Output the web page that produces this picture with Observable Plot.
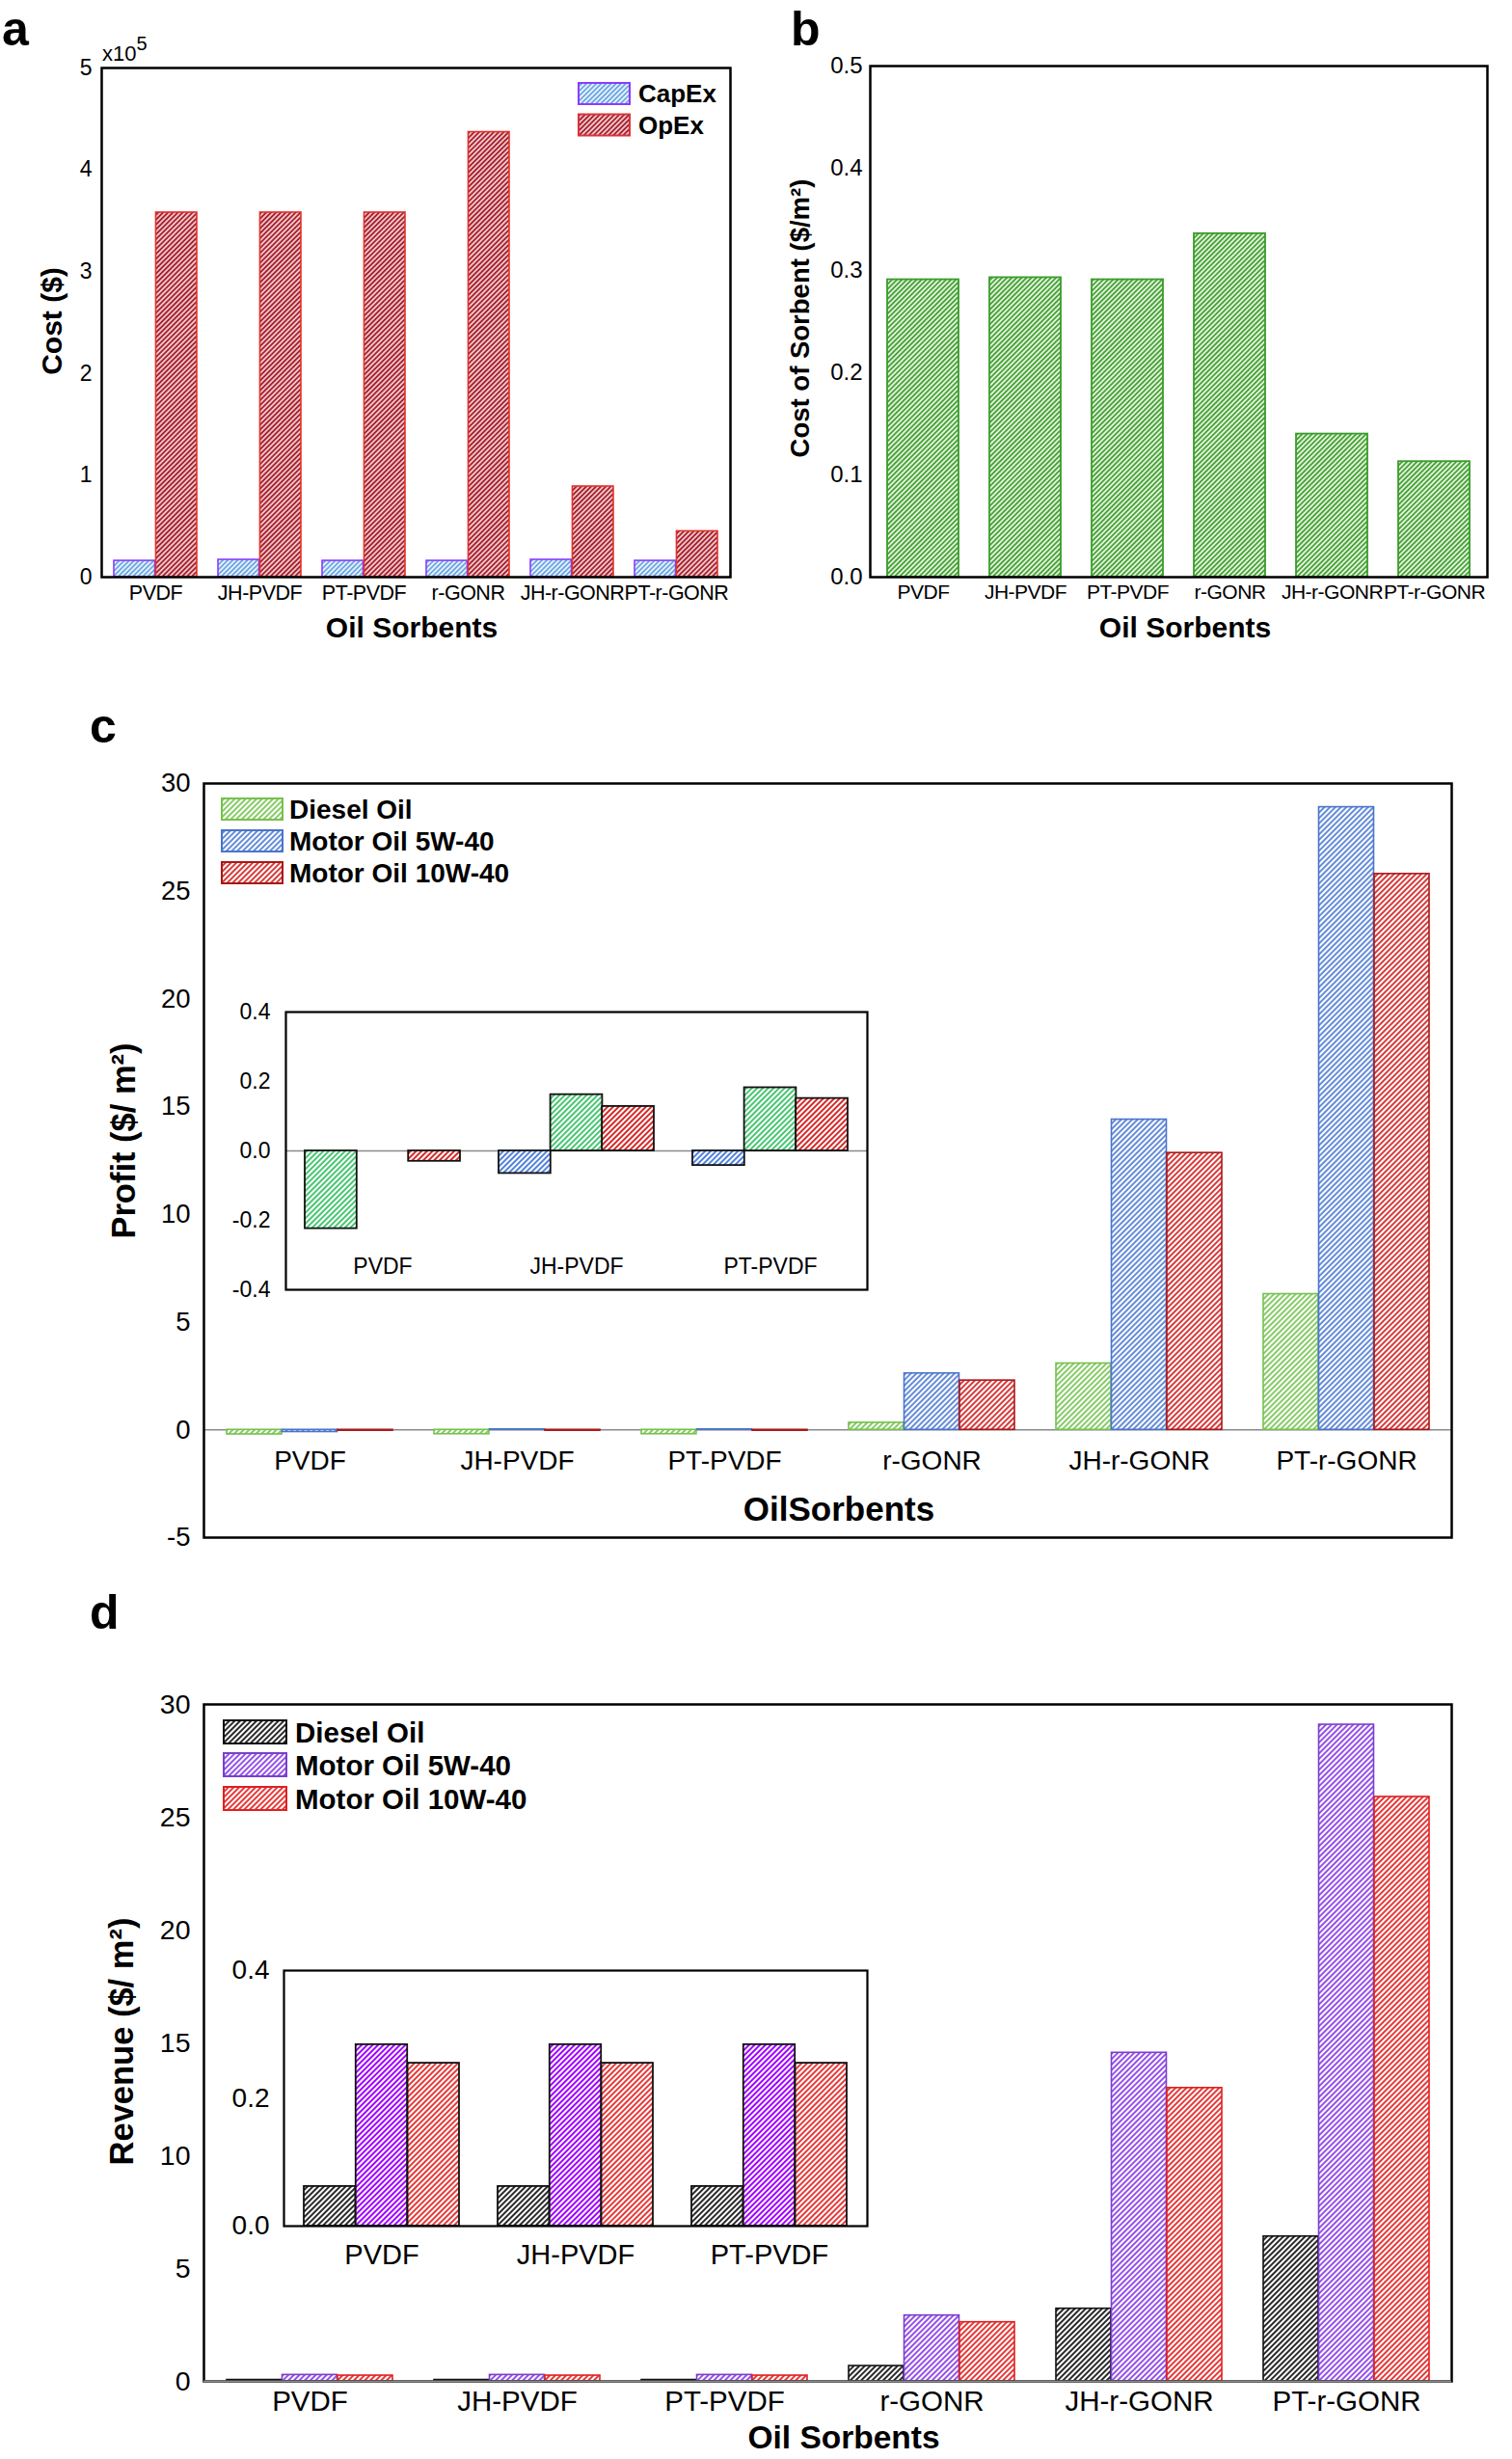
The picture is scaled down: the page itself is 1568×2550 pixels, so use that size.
<!DOCTYPE html>
<html><head><meta charset="utf-8">
<script src="https://cdn.jsdelivr.net/npm/d3@7"></script>
<script src="https://cdn.jsdelivr.net/npm/@observablehq/plot@0.6"></script>
<style>
html,body{margin:0;padding:0;background:#fff}
#page{position:relative;width:1568px;height:2550px;overflow:hidden;background:#fff}
.tight g[aria-label="x-axis tick label"] text{letter-spacing:-0.5px}
</style></head><body>
<svg id="patterns" width="0" height="0" style="position:absolute;left:0;top:0"><defs></defs></svg>
<div id="page"></div>
<script>
// ---------------- DATA ----------------
const sorbents = ["PVDF","JH-PVDF","PT-PVDF","r-GONR","JH-r-GONR","PT-r-GONR"];
const costTypes = ["CapEx","OpEx"];
const capexCost = [16000,17000,16000,16000,17000,16000];
const opexCost = [358000,358000,358000,437000,89000,45000];
const costTicks = [0,1,2,3,4,5]; // units of 10^5 $
const sorbentCost = [0.291,0.293,0.291,0.336,0.140,0.113];
const sorbentCostTicks = [0,0.1,0.2,0.3,0.4,0.5];

const oils = ["Diesel Oil","Motor Oil 5W-40","Motor Oil 10W-40"];
const profitDiesel = [-0.21,-0.20,-0.20,0.33,3.08,6.3];
const profit5W = [-0.10,0.02,0.02,2.62,14.4,28.9];
const profit10W = [-0.04,-0.04,-0.04,2.29,12.85,25.8];
const profitTicks = [-5,0,5,10,15,20,25,30];

const insetSorbents = ["PVDF","JH-PVDF","PT-PVDF"];
const insetProfitDiesel = [-0.224,0.162,0.182];
const insetProfit5W = [0,-0.065,-0.042];
const insetProfit10W = [-0.03,0.128,0.151];
// order in which the oils appear inside each inset group (as drawn)
const insetProfitSlots = [
  ["Diesel Oil","Motor Oil 5W-40","Motor Oil 10W-40"],
  ["Motor Oil 5W-40","Diesel Oil","Motor Oil 10W-40"],
  ["Motor Oil 5W-40","Diesel Oil","Motor Oil 10W-40"]
];
const insetProfitTicks = [-0.4,-0.2,0,0.2,0.4];

const revenueDiesel = [0.062,0.062,0.062,0.68,3.22,6.42];
const revenue5W = [0.284,0.284,0.284,2.92,14.56,29.1];
const revenue10W = [0.255,0.255,0.255,2.62,13.0,25.9];
const revenueTicks = [0,5,10,15,20,25,30];
const insetRevenueTicks = [0,0.2,0.4];

// ---------------- PATTERNS ----------------
const font = '"Liberation Sans", Arial, Helvetica, sans-serif';
const defs = d3.select("#patterns defs");
function hatch(id, line, bg = "#fff", size = 4, lw = 1.8) {
  const p = defs.append("pattern").attr("id", id).attr("patternUnits", "userSpaceOnUse")
    .attr("width", size).attr("height", size).attr("patternTransform", "rotate(45)");
  p.append("rect").attr("width", size).attr("height", size).attr("fill", bg);
  p.append("line").attr("x1", size / 2).attr("x2", size / 2).attr("y1", -1).attr("y2", size + 1)
    .attr("stroke", line).attr("stroke-width", lw);
}
hatch("hCapex", "#5c9ee0", "#e9f2fb", 3.6, 1.6);
hatch("hOpex", "#a8202e", "#f3d2d4", 3.6, 1.9);
hatch("hB", "#3e9e2e", "#e3f3dc", 3.6, 1.7);
hatch("hcG", "#72c24e", "#fff", 4, 1.7);
hatch("hcB", "#4b78d2", "#fff", 4, 1.7);
hatch("hcR", "#d22626", "#fff", 4, 1.8);
hatch("hiG", "#35c063", "#fff", 4, 1.8);
hatch("hiB", "#3e73d8", "#fff", 4, 1.8);
hatch("hiR", "#d21e1e", "#fff", 4, 1.9);
hatch("hdK", "#111", "#fff", 4, 1.8);
hatch("hdP", "#8a3ee6", "#fff", 4, 1.8);
hatch("hdR", "#e22424", "#fff", 4, 1.8);
hatch("hiP", "#a000ff", "#fff", 4, 2.0);

const page = document.getElementById("page");
function place(node, left, top) {
  node.style.position = "absolute";
  node.style.left = left + "px";
  node.style.top = top + "px";
  page.appendChild(node);
}
const baseStyle = (bg) => ({fontFamily: font, background: bg, color: "#000", overflow: "visible"});
const fmt1 = d => d.toFixed(1);

// band geometry: paddingInner 0.2, paddingOuter 0.1 -> step = inner width / n, group = 0.8 step
const PAD_IN = 0.2, PAD_OUT = 0.1;
function slotInsets(innerWidth, nGroups, nSlots, slot) {
  const w = innerWidth / nGroups * (1 - PAD_IN) / nSlots;
  return {insetLeft: slot * w, insetRight: (nSlots - 1 - slot) * w};
}

// ---------------- PANEL A ----------------
const A = {width: 790, height: 680, ml: 105, mr: 33, mt: 70, mb: 82};
const costRows = sorbents.flatMap((s, i) => [
  {sorbent: s, type: "CapEx", cost: capexCost[i]},
  {sorbent: s, type: "OpEx", cost: opexCost[i]}
]);
const aStyles = {CapEx: {fill: "url(#hCapex)", stroke: "#8a3cff"}, OpEx: {fill: "url(#hOpex)", stroke: "#e2312b"}};
const chartA = Plot.plot({
  width: A.width, height: A.height, marginLeft: A.ml, marginRight: A.mr, marginTop: A.mt, marginBottom: A.mb,
  className: "tight",
  style: baseStyle("transparent"),
  x: {domain: sorbents, paddingInner: PAD_IN, paddingOuter: PAD_OUT},
  y: {domain: [0, 5e5]},
  marks: [
    ...costTypes.map((t, j) => Plot.barY(costRows, {
      filter: d => d.type === t, x: "sorbent", y: "cost",
      ...slotInsets(A.width - A.ml - A.mr, sorbents.length, costTypes.length, j),
      fill: aStyles[t].fill, stroke: aStyles[t].stroke, strokeWidth: 1.6
    })),
    Plot.axisX({tickSize: 0, tickPadding: 8, fontSize: 21.5, label: null}),
    Plot.axisY({ticks: costTicks.map(t => t * 1e5), tickFormat: d => String(d / 1e5), tickSize: 0, tickPadding: 10, fontSize: 23, label: null}),
    Plot.frame({stroke: "#000", strokeWidth: 2.5})
  ]
});
place(chartA, 0, 0);

// ---------------- PANEL B ----------------
const sorbentRows = sorbents.map((s, i) => ({sorbent: s, cost: sorbentCost[i]}));
const chartB = Plot.plot({
  width: 778, height: 680, marginLeft: 112, marginRight: 26, marginTop: 68, marginBottom: 82,
  className: "tight",
  style: baseStyle("transparent"),
  x: {domain: sorbents, paddingInner: 0.3, paddingOuter: 0.15},
  y: {domain: [0, 0.5]},
  marks: [
    Plot.barY(sorbentRows, {x: "sorbent", y: "cost", fill: "url(#hB)", stroke: "#3a9c2c", strokeWidth: 1.8}),
    Plot.axisX({tickSize: 0, tickPadding: 8, fontSize: 21, label: null}),
    Plot.axisY({ticks: sorbentCostTicks, tickFormat: fmt1, tickSize: 0, tickPadding: 8, fontSize: 24, label: null}),
    Plot.frame({stroke: "#000", strokeWidth: 2.5})
  ]
});
place(chartB, 790, 0);

// ---------------- PANEL C ----------------
const C = {width: 1568, height: 900, ml: 211, mr: 63, mt: 92, mb: 26};
const profitSeries = [profitDiesel, profit5W, profit10W];
const profitRows = sorbents.flatMap((s, i) => oils.map((o, j) => ({sorbent: s, oil: o, value: profitSeries[j][i]})));
const cStyles = {
  "Diesel Oil": {fill: "url(#hcG)", stroke: "#76c14c"},
  "Motor Oil 5W-40": {fill: "url(#hcB)", stroke: "#4a74cc"},
  "Motor Oil 10W-40": {fill: "url(#hcR)", stroke: "#a81818"}
};
const chartC = Plot.plot({
  width: C.width, height: C.height, marginLeft: C.ml, marginRight: C.mr, marginTop: C.mt, marginBottom: C.mb,
  style: baseStyle("transparent"),
  x: {domain: sorbents, paddingInner: PAD_IN, paddingOuter: PAD_OUT, axis: null},
  y: {domain: [-5, 30]},
  marks: [
    Plot.ruleY([0], {stroke: "#8a8a8a", strokeWidth: 1.5}),
    ...oils.map((o, j) => Plot.barY(profitRows, {
      filter: d => d.oil === o, x: "sorbent", y: "value",
      ...slotInsets(C.width - C.ml - C.mr, sorbents.length, oils.length, j),
      fill: cStyles[o].fill, stroke: cStyles[o].stroke, strokeWidth: 1.6
    })),
    Plot.text(sorbents, {x: d => d, y: () => 0, text: d => d, dy: 32, fontSize: 28}),
    Plot.axisY({ticks: profitTicks, tickFormat: d => String(d), tickSize: 0, tickPadding: 14, fontSize: 27.5, label: null}),
    Plot.frame({stroke: "#000", strokeWidth: 2.5})
  ]
});
place(chartC, 0, 720);

// inset C
const IC = {width: 670, height: 330, ml: 60, mr: 7, mt: 19, mb: 23};
const insetProfitSeries = {"Diesel Oil": insetProfitDiesel, "Motor Oil 5W-40": insetProfit5W, "Motor Oil 10W-40": insetProfit10W};
const insetProfitRows = insetSorbents.flatMap((s, i) => oils.map(o => ({
  sorbent: s, oil: o, slot: insetProfitSlots[i].indexOf(o), value: insetProfitSeries[o][i]
})));
const iStyles = {"Diesel Oil": "url(#hiG)", "Motor Oil 5W-40": "url(#hiB)", "Motor Oil 10W-40": "url(#hiR)"};
const insetC = Plot.plot({
  width: IC.width, height: IC.height, marginLeft: IC.ml, marginRight: IC.mr, marginTop: IC.mt, marginBottom: IC.mb,
  style: baseStyle("white"),
  x: {domain: insetSorbents, paddingInner: PAD_IN, paddingOuter: PAD_OUT, axis: null},
  y: {domain: [-0.4, 0.4]},
  marks: [
    Plot.ruleY([0], {stroke: "#8a8a8a", strokeWidth: 1.5}),
    ...oils.flatMap(o => [0, 1, 2].map(k => Plot.barY(insetProfitRows, {
      filter: d => d.oil === o && d.slot === k, x: "sorbent", y: "value",
      ...slotInsets(IC.width - IC.ml - IC.mr, insetSorbents.length, 3, k),
      fill: iStyles[o], stroke: "#111", strokeWidth: 1.8
    }))),
    Plot.text(insetSorbents, {x: d => d, frameAnchor: "bottom", text: d => d, dy: -17, fontSize: 23}),
    Plot.axisY({ticks: insetProfitTicks, tickFormat: fmt1, tickSize: 0, tickPadding: 16, fontSize: 23, label: null}),
    Plot.frame({stroke: "#000", strokeWidth: 2.2})
  ]
});
place(insetC, 236, 1030);

// ---------------- PANEL D ----------------
const D = {width: 1568, height: 860, ml: 211, mr: 63, mt: 77, mb: 81};
const revenueSeries = [revenueDiesel, revenue5W, revenue10W];
const revenueRows = sorbents.flatMap((s, i) => oils.map((o, j) => ({sorbent: s, oil: o, value: revenueSeries[j][i]})));
const dStyles = {
  "Diesel Oil": {fill: "url(#hdK)", stroke: "#111"},
  "Motor Oil 5W-40": {fill: "url(#hdP)", stroke: "#7b3fc9"},
  "Motor Oil 10W-40": {fill: "url(#hdR)", stroke: "#e02020"}
};
const chartD = Plot.plot({
  width: D.width, height: D.height, marginLeft: D.ml, marginRight: D.mr, marginTop: D.mt, marginBottom: D.mb,
  style: baseStyle("transparent"),
  x: {domain: sorbents, paddingInner: PAD_IN, paddingOuter: PAD_OUT},
  y: {domain: [0, 30]},
  marks: [
    ...oils.map((o, j) => Plot.barY(revenueRows, {
      filter: d => d.oil === o, x: "sorbent", y: "value",
      ...slotInsets(D.width - D.ml - D.mr, sorbents.length, oils.length, j),
      fill: dStyles[o].fill, stroke: dStyles[o].stroke, strokeWidth: 1.6
    })),
    Plot.axisX({tickSize: 0, tickPadding: 10, fontSize: 29.5, label: null}),
    Plot.axisY({ticks: revenueTicks, tickFormat: d => String(d), tickSize: 0, tickPadding: 14, fontSize: 28.5, label: null}),
    Plot.frame({stroke: "#000", strokeWidth: 2.5}),
    Plot.ruleY([0], {stroke: "#8a8a8a", strokeWidth: 2})
  ]
});
place(chartD, 0, 1690);

// inset D
const ID = {width: 670, height: 345, ml: 58, mr: 7, mt: 18, mb: 62};
const insetRevenueRows = insetSorbents.flatMap((s, i) => oils.map((o, j) => ({sorbent: s, oil: o, value: revenueSeries[j][i]})));
const idStyles = {"Diesel Oil": "url(#hdK)", "Motor Oil 5W-40": "url(#hiP)", "Motor Oil 10W-40": "url(#hdR)"};
const insetD = Plot.plot({
  width: ID.width, height: ID.height, marginLeft: ID.ml, marginRight: ID.mr, marginTop: ID.mt, marginBottom: ID.mb,
  style: baseStyle("white"),
  x: {domain: insetSorbents, paddingInner: PAD_IN, paddingOuter: PAD_OUT},
  y: {domain: [0, 0.4]},
  marks: [
    ...oils.map((o, j) => Plot.barY(insetRevenueRows, {
      filter: d => d.oil === o, x: "sorbent", y: "value",
      ...slotInsets(ID.width - ID.ml - ID.mr, insetSorbents.length, oils.length, j),
      fill: idStyles[o], stroke: "#111", strokeWidth: 1.8
    })),
    Plot.axisX({tickSize: 0, tickPadding: 19, fontSize: 29, label: null}),
    Plot.axisY({ticks: insetRevenueTicks, tickFormat: fmt1, tickSize: 0, tickPadding: 15, fontSize: 28, label: null}),
    Plot.frame({stroke: "#000", strokeWidth: 2.2})
  ]
});
place(insetD, 236, 2025);

// ---------------- ANNOTATIONS (titles, letters, legends) ----------------
const ov = d3.create("svg").attr("width", 1568).attr("height", 2550)
  .attr("font-family", font).style("pointer-events", "none");
function label(txt, x, y, size, opts = {}) {
  const t = ov.append("text").attr("x", x).attr("y", y).attr("font-size", size)
    .attr("font-weight", opts.bold === false ? "normal" : "bold")
    .attr("text-anchor", opts.anchor || "start").attr("fill", "#000").text(txt);
  if (opts.middle) t.attr("dominant-baseline", "central");
  return t;
}
function ytitle(txt, x, y, size) {
  ov.append("text").attr("transform", `translate(${x},${y}) rotate(-90)`)
    .attr("text-anchor", "middle").attr("dominant-baseline", "central")
    .attr("font-size", size).attr("font-weight", "bold").attr("fill", "#000").text(txt);
}
// panel letters
label("a", 2, 47, 50);
label("b", 820, 47, 50);
label("c", 93, 770, 50);
label("d", 93, 1689, 50);
// multiplier
const mult = label("x10", 106, 63, 22, {bold: false});
mult.append("tspan").attr("dy", -11).attr("font-size", 20).text("5");
// axis titles
ytitle("Cost ($)", 53, 333, 30);
ytitle("Cost of Sorbent ($/m²)", 829, 330, 27.5);
ytitle("Profit ($/ m²)", 128, 1183, 34.5);
ytitle("Revenue ($/ m²)", 126, 2117, 34.5);
label("Oil Sorbents", 427, 650, 30, {anchor: "middle", middle: true});
label("Oil Sorbents", 1229, 650, 30, {anchor: "middle", middle: true});
label("OilSorbents", 870, 1564, 35, {anchor: "middle", middle: true});
label("Oil Sorbents", 875, 2527, 33.5, {anchor: "middle", middle: true});
// legends
function legend(items, x, w, h, textX, centers, size) {
  items.forEach((it, i) => {
    ov.append("rect").attr("x", x).attr("y", centers[i] - h / 2).attr("width", w).attr("height", h)
      .attr("fill", it.fill).attr("stroke", it.stroke).attr("stroke-width", 2);
    label(it.name, textX, centers[i], size, {middle: true});
  });
}
legend([
  {name: costTypes[0], fill: "url(#hCapex)", stroke: "#8a3cff"},
  {name: costTypes[1], fill: "url(#hOpex)", stroke: "#d8343a"}
], 600, 53, 22, 662, [97, 129.5], 26);
legend(oils.map(o => ({name: o, fill: cStyles[o].fill, stroke: cStyles[o].stroke})), 230, 63, 22, 300, [839, 872, 905], 28);
legend(oils.map(o => ({name: o, fill: dStyles[o].fill, stroke: dStyles[o].stroke})), 232, 65, 24, 306, [1796, 1830, 1865], 29.5);
place(ov.node(), 0, 0);
</script>
</body></html>
